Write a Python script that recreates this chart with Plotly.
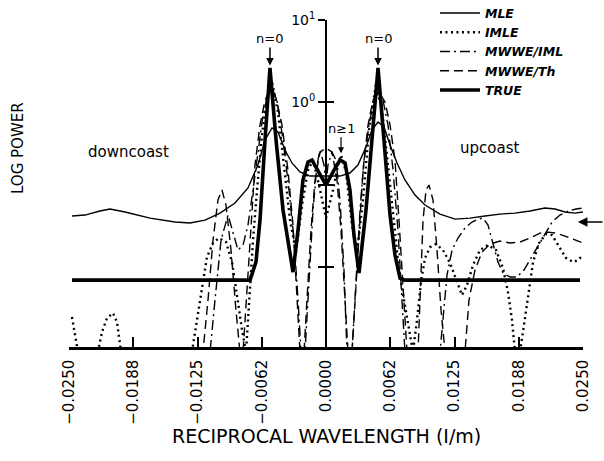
import plotly.graph_objects as go

# ---- spectral estimates: reciprocal wavelength (1/m) vs log10 power ----
xtick_vals = [-0.025, -0.01875, -0.0125, -0.00625, 0.0, 0.00625, 0.0125, 0.01875, 0.025]
xtick_text = ["−0.0250", "−0.0188", "−0.0125", "−0.0062", "0.0000",
              "0.0062", "0.0125", "0.0188", "0.0250"]

mle_x = [-0.02471, -0.02344, -0.02199, -0.02101, -0.01955, -0.01712, -0.01469, -0.01323,
         -0.01177, -0.01031, -0.00885, -0.00759, -0.00662, -0.00593, -0.00525, -0.00467,
         -0.00399, -0.00331, -0.00253, -0.00156, -0.00058, 0.00039, 0.00136, 0.00233,
         0.00311, 0.00389, 0.00447, 0.00506, 0.00564, 0.00623, 0.00691, 0.00768, 0.00866,
         0.00963, 0.01109, 0.01255, 0.01401, 0.01547, 0.01693, 0.01839, 0.01985, 0.02130,
         0.02228, 0.02325, 0.02422, 0.02500]
mle_logp = [-1.382, -1.370, -1.321, -1.297, -1.333, -1.407, -1.455, -1.467,
            -1.431, -1.346, -1.224, -1.041, -0.762, -0.458, -0.312, -0.361,
            -0.580, -0.737, -0.847, -0.896, -0.896, -0.896, -0.896, -0.859,
            -0.762, -0.543, -0.337, -0.240, -0.300, -0.519, -0.737, -0.944, -1.127,
            -1.248, -1.358, -1.419, -1.407, -1.382, -1.358, -1.346, -1.321, -1.285,
            -1.297, -1.333, -1.346, -1.333]

imle_x = [-0.02471, -0.02442, -0.02413, -0.02218, -0.02179, -0.02130, -0.02072, -0.02033,
          -0.01994, -0.01304, -0.01255, -0.01216, -0.01158, -0.01099, -0.01041, -0.00973,
          -0.00914, -0.00866, -0.00817, -0.00778, -0.00749, -0.00710, -0.00671, -0.00623,
          -0.00574, -0.00525, -0.00467, -0.00409, -0.00350, -0.00292, -0.00233, -0.00175,
          -0.00126, -0.00068, 0.0, 0.00068, 0.00117, 0.00146, 0.00195, 0.00253, 0.00302,
          0.00360, 0.00418, 0.00486, 0.00545, 0.00603, 0.00662, 0.00710, 0.00759, 0.00807,
          0.00846, 0.00885, 0.00924, 0.00963, 0.01012, 0.01070, 0.01138, 0.01206, 0.01265,
          0.01323, 0.01372, 0.01430, 0.01498, 0.01576, 0.01654, 0.01722, 0.01770, 0.01809,
          0.01839, 0.01887, 0.01926, 0.01965, 0.02014, 0.02072, 0.02140, 0.02199, 0.02267,
          0.02335, 0.02403, 0.02451, 0.02500]
imle_logp = [-2.609, -2.803, -3.032, -3.032, -2.791, -2.621, -2.560, -2.670,
             -3.032, -3.032, -2.646, -2.281, -1.880, -1.710, -1.649, -1.698,
             -1.941, -2.342, -2.767, -3.032, -2.403, -1.674, -1.066, -0.398,
             0.052, 0.247, -0.119, -0.762, -1.431, -1.819, -1.248, -0.823,
             -0.701, -1.005, -1.407, -1.066, -0.762, -0.641, -0.847, -1.492, -1.819,
             -1.187, -0.337, 0.222, -0.094, -0.762, -1.492, -2.038, -2.403, -2.767,
             -3.032, -2.646, -2.184, -1.892, -1.759, -1.722, -1.795, -1.953, -2.160,
             -2.342, -2.220, -1.978, -1.795, -1.734, -1.795, -2.014, -2.306, -2.646,
             -3.032, -3.032, -2.706, -2.342, -1.941, -1.710, -1.601, -1.613, -1.759,
             -1.892, -1.941, -1.917, -1.856]

mwwe_iml_x = [-0.02471, -0.01128, -0.01080, -0.01021, -0.00953, -0.00895, -0.00856, -0.00807,
              -0.00759, -0.00710, -0.00662, -0.00613, -0.00564, -0.00525, -0.00477, -0.00418,
              -0.00360, -0.00311, -0.00272, -0.00243, -0.00204, -0.00165, -0.00126, -0.00088,
              -0.00058, -0.00019, 0.0, 0.00019, 0.00058, 0.00097, 0.00136, 0.00175, 0.00204,
              0.00253, 0.00292, 0.00331, 0.00370, 0.00418, 0.00467, 0.00506, 0.00554, 0.00603,
              0.00652, 0.00700, 0.00739, 0.00768, 0.01109, 0.01138, 0.01177, 0.01226, 0.01284,
              0.01352, 0.01420, 0.01479, 0.01527, 0.01576, 0.01625, 0.01673, 0.01722, 0.01790,
              0.01858, 0.01926, 0.01994, 0.02062, 0.02130, 0.02199, 0.02276, 0.02354, 0.02432,
              0.02500]
mwwe_iml_logp = [-3.032, -3.032, -2.403, -1.674, -1.370, -1.613, -1.795, -1.734,
                 -1.492, -1.066, -0.580, -0.155, 0.089, 0.174, 0.028, -0.458,
                 -1.066, -1.674, -2.403, -3.032, -3.032, -2.160, -1.309, -0.762,
                 -0.580, -0.762, -1.005, -0.762, -0.604, -0.701, -1.187, -2.038, -3.032,
                 -3.032, -2.160, -1.309, -0.701, -0.276, 0.028, 0.125, 0.028, -0.276,
                 -0.823, -1.552, -2.403, -3.032, -3.032, -2.646, -2.099, -1.795, -1.649,
                 -1.527, -1.455, -1.419, -1.407, -1.492, -1.710, -1.941, -2.075, -2.123,
                 -2.123, -2.038, -1.892, -1.747, -1.589, -1.455, -1.370, -1.321, -1.297,
                 -1.285]

mwwe_th_x = [-0.02471, -0.01197, -0.01148, -0.01099, -0.01051, -0.01012, -0.00973, -0.00924,
             -0.00876, -0.00837, -0.00807, -0.00769, -0.00730, -0.00691, -0.00642, -0.00593,
             -0.00545, -0.00486, -0.00428, -0.00370, -0.00321, -0.00282, -0.00253, -0.00214,
             -0.00185, -0.00146, -0.00107, -0.00058, 0.0, 0.00058, 0.00107, 0.00146, 0.00185,
             0.00214, 0.00253, 0.00282, 0.00321, 0.00360, 0.00409, 0.00457, 0.00516, 0.00574,
             0.00623, 0.00671, 0.00710, 0.00749, 0.00788, 0.00895, 0.00924, 0.00944, 0.00973,
             0.01002, 0.01041, 0.01080, 0.01119, 0.01158, 0.01352, 0.01391, 0.01449, 0.01518,
             0.01595, 0.01693, 0.01790, 0.01887, 0.01985, 0.02082, 0.02160, 0.02237, 0.02325,
             0.02422, 0.02500]
mwwe_th_logp = [-3.032, -3.032, -2.403, -1.674, -1.187, -1.066, -1.248, -1.795,
                -2.524, -3.032, -3.032, -2.281, -1.431, -0.762, -0.276, 0.028,
                0.149, 0.052, -0.276, -0.823, -1.492, -2.281, -3.032, -3.032,
                -2.403, -1.552, -0.944, -0.604, -0.556, -0.604, -0.944, -1.552, -2.403,
                -3.032, -3.032, -2.403, -1.552, -0.823, -0.276, 0.028, 0.125, 0.004,
                -0.276, -0.701, -1.431, -2.281, -3.032, -3.032, -2.160, -1.431, -1.066,
                -1.005, -1.187, -1.795, -2.524, -3.032, -3.032, -2.403, -2.038, -1.819,
                -1.722, -1.686, -1.710, -1.698, -1.649, -1.589, -1.577, -1.589, -1.625,
                -1.674, -1.710]

true_x = [-0.02471, -0.00739, -0.00681, -0.00642, -0.00593, -0.00545, -0.00486, -0.00418,
          -0.00321, -0.00272, -0.00224, -0.00175, -0.00136, -0.00078, 0.0, 0.00078,
          0.00136, 0.00185, 0.00233, 0.00272, 0.00321, 0.00389, 0.00447, 0.00506,
          0.00564, 0.00623, 0.00671, 0.00720, 0.00768, 0.02471]
true_logp = [-2.160, -2.160, -1.940, -1.430, -0.458, 0.417, -0.458, -1.309,
             -2.063, -1.552, -0.944, -0.725, -0.701, -0.823, -1.005, -0.823,
             -0.701, -0.737, -1.066, -1.613, -2.075, -1.309, -0.458, 0.417,
             -0.458, -1.370, -1.856, -2.136, -2.160, -2.160]

series = [
    ("MLE", mle_x, mle_logp, dict(width=1.4, dash="solid")),
    ("IMLE", imle_x, imle_logp, dict(width=2.4, dash="2px,3.5px")),
    ("MWWE/IML", mwwe_iml_x, mwwe_iml_logp, dict(width=1.4, dash="10px,4px,2px,4px")),
    ("MWWE/Th", mwwe_th_x, mwwe_th_logp, dict(width=1.4, dash="9px,5px")),
    ("TRUE", true_x, true_logp, dict(width=3.6, dash="solid")),
]

FONT = "DejaVu Sans"
YMIN, YMAX = -2.973, 1.0

fig = go.Figure()
for name, xs, ys, line in series:
    fig.add_trace(go.Scatter(x=xs, y=ys, mode="lines", name=name,
                             line=dict(color="black", **line)))

# second y axis used only for the right-hand half of the crossing ticks
fig.add_trace(go.Scatter(x=[0], y=[0], yaxis="y2", mode="none",
                         showlegend=False, hoverinfo="skip"))

fig.update_layout(
    width=604, height=461,
    margin=dict(l=69, r=21, t=20, b=114, autoexpand=False),
    paper_bgcolor="white", plot_bgcolor="white",
    font=dict(family=FONT, color="black"),
    xaxis=dict(range=[-0.025, 0.025], showgrid=False, zeroline=False,
               showline=True, linecolor="black", linewidth=2.5,
               ticks="inside", ticklen=10, tickwidth=1.5, tickcolor="black",
               tickvals=xtick_vals, ticktext=xtick_text, tickangle=-90,
               ticklabelstandoff=4,
               tickfont=dict(family=FONT, size=15)),
    yaxis=dict(range=[YMIN, YMAX], showgrid=False, zeroline=False,
               anchor="free", position=0.5,
               showline=True, linecolor="black", linewidth=2,
               ticks="outside", ticklen=7, tickwidth=1.5, tickcolor="black",
               tickvals=[1, 0, -1, -2],
               ticktext=["10<sup>1</sup>", "10<sup>0</sup>", "", ""],
               tickfont=dict(family=FONT, size=14)),
    yaxis2=dict(range=[YMIN, YMAX], overlaying="y", anchor="free", position=0.5,
                showgrid=False, zeroline=False, showline=False,
                ticks="inside", ticklen=7, tickwidth=1.5, tickcolor="black",
                tickvals=[1, 0, -1, -2], showticklabels=False),
    legend=dict(x=0.712, y=1.066, xanchor="left", yanchor="top",
                bgcolor="rgba(0,0,0,0)", borderwidth=0, itemwidth=40,
                tracegroupgap=0,
                font=dict(family=FONT, size=12.5, style="italic", weight="bold")),
    showlegend=True,
)

ARROW = dict(arrowhead=2, arrowsize=1, arrowcolor="black", standoff=0)

# peak markers
left_peak = max(range(len(true_x) // 2), key=lambda i: true_logp[i])
right_peak = max(range(len(true_x) // 2, len(true_x)), key=lambda i: true_logp[i])
for i in (left_peak, right_peak):
    fig.add_annotation(x=true_x[i], y=true_logp[i] + 0.03, text="n=0",
                       showarrow=True, ax=0, ay=-27, arrowwidth=1.5, **ARROW,
                       font=dict(size=13))
fig.add_annotation(x=0.00146, y=-0.62, text="n≥1", showarrow=True, ax=0, ay=-25,
                   arrowwidth=1.2, **ARROW, font=dict(size=13))

fig.add_annotation(x=-0.01926, y=-0.604, text="downcoast", showarrow=False,
                   font=dict(size=15))
fig.add_annotation(x=0.01586, y=-0.555, text="upcoast", showarrow=False,
                   font=dict(size=15))

# arrow on the right edge
fig.add_annotation(x=0.0245, y=-1.455, text="", showarrow=True, ax=32, ay=0,
                   arrowhead=2, arrowsize=1.2, arrowwidth=1.6, arrowcolor="black",
                   standoff=0)

fig.add_annotation(xref="paper", yref="paper", x=-0.099, y=0.609,
                   xanchor="center", yanchor="middle",
                   text="LOG POWER", textangle=-90, showarrow=False,
                   font=dict(size=15))
fig.add_annotation(xref="paper", yref="paper", x=0.5, y=-0.272,
                   xanchor="center", yanchor="middle",
                   text="RECIPROCAL WAVELENGTH (I/m)", showarrow=False,
                   font=dict(size=19))

fig.write_html("out.html")
